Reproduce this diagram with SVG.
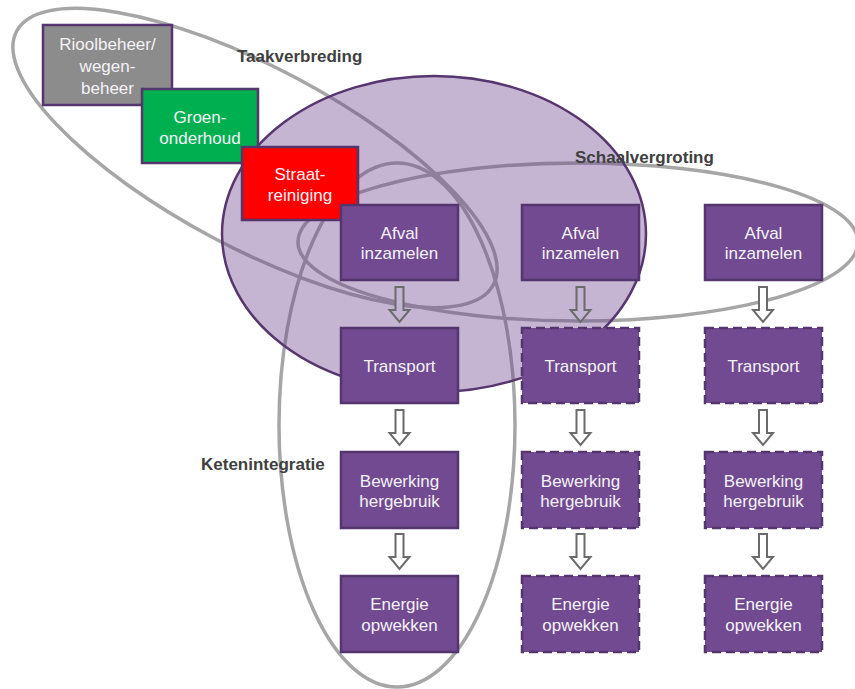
<svg xmlns="http://www.w3.org/2000/svg" width="855" height="689" viewBox="0 0 855 689">
<defs>
<style>
.ring{fill:none;stroke:#a6a6a6;stroke-width:3.5}
.blob{fill:#6f4591;fill-opacity:0.4;stroke:#57366f;stroke-width:2.5}
.box{fill:#714a91;stroke:#55356d;stroke-width:2.5}
.dash{stroke-dasharray:9 5}
.t{font-family:"Liberation Sans",Arial,sans-serif;font-size:17px;fill:#f4f2f6;text-anchor:middle}
.lbl{font-family:"Liberation Sans",Arial,sans-serif;font-size:17px;font-weight:bold;fill:#404040}
.arr{fill:#ffffff;stroke:#6b6b6b;stroke-width:2}
.arr.in{fill:#c4b4d3}
</style>
</defs>
<rect width="855" height="689" fill="#ffffff"/>
<g id="regions">
<ellipse class="ring" cx="255" cy="158" rx="270" ry="90" transform="rotate(28 255 158)"/>
<ellipse class="ring" cx="578" cy="242" rx="280" ry="79"/>
<ellipse class="ring" cx="397" cy="425" rx="118" ry="262"/>
<ellipse class="blob" cx="434" cy="234" rx="212" ry="158"/>
</g>
<g id="connectors">
<path class="arr in" d="M395.5 287h8v23h6l-10 12l-10-12h6z"/>
<path class="arr" d="M395.5 410h8v23h6l-10 12l-10-12h6z"/>
<path class="arr" d="M395.5 534h8v23h6l-10 12l-10-12h6z"/>
<path class="arr in" d="M576.5 287h8v23h6l-10 12l-10-12h6z"/>
<path class="arr" d="M576.5 410h8v23h6l-10 12l-10-12h6z"/>
<path class="arr" d="M576.5 534h8v23h6l-10 12l-10-12h6z"/>
<path class="arr" d="M759 287h8v23h6l-10 12l-10-12h6z"/>
<path class="arr" d="M759 410h8v23h6l-10 12l-10-12h6z"/>
<path class="arr" d="M759 534h8v23h6l-10 12l-10-12h6z"/>
</g>
<g id="rioolbeheer">
<rect class="box" x="43" y="25" width="129" height="80" fill="#8c8c8c" style="fill:#8c8c8c"/>
<text class="t" x="107.5" y="50">Rioolbeheer/</text>
<text class="t" x="107.5" y="72">wegen-</text>
<text class="t" x="107.5" y="94">beheer</text>
</g>
<g id="groenonderhoud">
<rect class="box" x="142" y="89" width="116" height="74" style="fill:#00b050"/>
<text class="t" x="200" y="123">Groen-</text>
<text class="t" x="200" y="144">onderhoud</text>
</g>
<g id="straatreiniging">
<rect class="box" x="242" y="147" width="116" height="73" style="fill:#ff0000"/>
<text class="t" x="300" y="180">Straat-</text>
<text class="t" x="300" y="201">reiniging</text>
</g>
<g id="afval1"><rect class="box" x="341" y="205" width="117" height="75"/><text class="t" x="399.5" y="239">Afval</text><text class="t" x="399.5" y="259">inzamelen</text></g>
<g id="afval2"><rect class="box" x="522" y="205" width="117" height="75"/><text class="t" x="580.5" y="239">Afval</text><text class="t" x="580.5" y="259">inzamelen</text></g>
<g id="afval3"><rect class="box" x="705" y="205" width="117" height="75"/><text class="t" x="763.5" y="239">Afval</text><text class="t" x="763.5" y="259">inzamelen</text></g>
<g id="transport1"><rect class="box" x="341" y="328" width="117" height="75"/><text class="t" x="399.5" y="372">Transport</text></g>
<g id="transport2"><rect class="box dash" x="522" y="328" width="117" height="75"/><text class="t" x="580.5" y="372">Transport</text></g>
<g id="transport3"><rect class="box dash" x="705" y="328" width="117" height="75"/><text class="t" x="763.5" y="372">Transport</text></g>
<g id="bewerking1"><rect class="box" x="341" y="452" width="117" height="76"/><text class="t" x="399.5" y="487">Bewerking</text><text class="t" x="399.5" y="507">hergebruik</text></g>
<g id="bewerking2"><rect class="box dash" x="522" y="452" width="117" height="76"/><text class="t" x="580.5" y="487">Bewerking</text><text class="t" x="580.5" y="507">hergebruik</text></g>
<g id="bewerking3"><rect class="box dash" x="705" y="452" width="117" height="76"/><text class="t" x="763.5" y="487">Bewerking</text><text class="t" x="763.5" y="507">hergebruik</text></g>
<g id="energie1"><rect class="box" x="341" y="576" width="117" height="76"/><text class="t" x="399.5" y="610">Energie</text><text class="t" x="399.5" y="631">opwekken</text></g>
<g id="energie2"><rect class="box dash" x="522" y="576" width="117" height="76"/><text class="t" x="580.5" y="610">Energie</text><text class="t" x="580.5" y="631">opwekken</text></g>
<g id="energie3"><rect class="box dash" x="705" y="576" width="117" height="76"/><text class="t" x="763.5" y="610">Energie</text><text class="t" x="763.5" y="631">opwekken</text></g>
<g id="labels">
<text class="lbl" x="237" y="62">Taakverbreding</text>
<text class="lbl" x="575" y="163">Schaalvergroting</text>
<text class="lbl" x="201" y="470">Ketenintegratie</text>
</g>
</svg>
